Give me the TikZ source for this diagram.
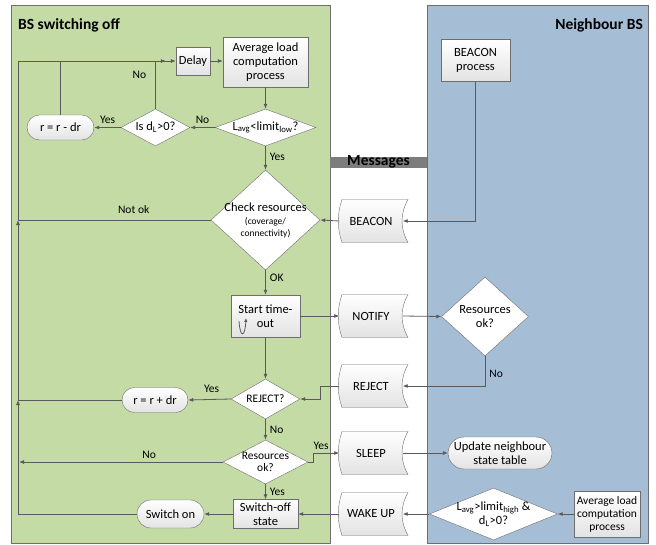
\documentclass[tikz,border=0pt]{standalone}
\usepackage{fontspec}
\setmainfont{Carlito}
\usetikzlibrary{shapes.geometric,shapes.misc,arrows.meta,calc}
\definecolor{panelgreen}{RGB}{196,219,166}
\definecolor{panelblue}{RGB}{166,189,214}
\definecolor{edgegray}{RGB}{90,90,90}
\definecolor{bordergray}{RGB}{110,110,110}
\definecolor{bargray}{RGB}{125,125,125}
\newcommand\msgnode[4]{%
  \begin{scope}[shift={(#2,#3)}]
    \path[msgfill] (-29,-21.5) -- (37,-21.5) .. controls (29,-7) and (29,7) .. (37,21.5) -- (-29,21.5) .. controls (-34,7) and (-34,-7) .. (-29,-21.5) -- cycle;
  \end{scope}
  \node[msgtxt] (#1) at (#2,#3) {#4};
}
\begin{document}
\begin{tikzpicture}[x=1pt,y=-1pt,
  every node/.style={font=\fontsize{12.5}{13.5}\selectfont},
  box/.style={draw=bordergray, top color=white, bottom color=gray!22, inner sep=1pt, align=center, font=\fontsize{12.5}{14}\selectfont},
  rbox/.style={box, rounded rectangle},
  dia/.style={diamond, draw=bordergray, fill=white, inner sep=0pt},
  dtext/.style={align=center, font=\fontsize{12.5}{14}\selectfont, inner sep=0pt},
  msgfill/.style={draw=bordergray, top color=white, bottom color=gray!22},
  msgtxt/.style={minimum width=63, minimum height=43, inner sep=0pt, font=\fontsize{12.5}{13.5}\selectfont},
  arr/.style={draw=edgegray, line width=0.8pt, -{Latex[length=5pt,width=4pt]}},
  ln/.style={draw=edgegray, line width=0.8pt},
  lab/.style={font=\fontsize{11.5}{12}\selectfont, inner sep=0pt},
  title/.style={font=\bfseries\fontsize{15.5}{17}\selectfont, inner sep=0pt}
]
\useasboundingbox (0,0) rectangle (656,544);
% panels
\path[draw=bordergray, fill=panelgreen] (11,5) rectangle (330,543);
\path[draw=bordergray, fill=panelblue] (427,5) rectangle (648,543);
\path[fill=bargray] (330,157) rectangle (427,168);
\node[title, anchor=center] (msgtitle) at (378.5,162) {Messages};
\node[title, anchor=west] (lefttitle) at (18,25) {BS switching off};
\node[title, anchor=east] (righttitle) at (643,25) {Neighbour BS};

% left panel nodes
\node[box, minimum width=34, minimum height=28] (delay) at (193,61) {Delay};
\node[box, minimum width=85, minimum height=50] (avg) at (265.5,62) {Average load\\computation\\process};
\node[rbox, minimum width=69, minimum height=25] (rminus) at (60.5,127.5) {r = r - dr};
\node[dia, minimum width=101, minimum height=37, label={[dtext]center:L\textsubscript{avg}<limit\textsubscript{low}?}] (lavg) at (265.5,127.5) {};
\node[dia, minimum width=69, minimum height=37, label={[dtext]center:Is d\textsubscript{L}>0?}] (isdl) at (155.5,127.5) {};
\node[dia, minimum width=109, minimum height=100, label={[dtext]center:Check resources\\[-1pt]{\fontsize{9.5}{11}\selectfont (coverage/}\\[-2pt]{\fontsize{9.5}{11}\selectfont connectivity)}}] (check) at (265.5,220) {};
\node[box, minimum width=69, minimum height=42] (start) at (265.5,316) {Start time-\\out};
\node[dia, minimum width=69, minimum height=40, label={[dtext, font=\fontsize{11.5}{12}\selectfont]center:REJECT?}] (rejq) at (265.5,399) {};
\node[rbox, minimum width=68, minimum height=25] (rplus) at (155,400) {r = r + dr};
\node[dia, minimum width=85, minimum height=44, label={[dtext, font=\fontsize{11.5}{12.5}\selectfont]center:Resources\\ok?}] (resok) at (265.5,462) {};
\node[box, minimum width=65, minimum height=29] (switchoff) at (265.5,514) {Switch-off\\state};
\node[rbox, minimum width=69, minimum height=28] (switchon) at (170.5,514) {Switch on};
\coordinate (L) at (18,0);

% timer symbol
\draw[draw=edgegray, line width=0.8pt, -{Latex[length=4pt,width=3.5pt]}] (239,321) .. controls (240,338) and (245,338) .. (246,318);

% right panel nodes
\node[box, minimum width=69, minimum height=42] (beaconp) at (475.5,60.5) {BEACON\\process};
\node[dia, minimum width=87, minimum height=79, label={[dtext]center:Resources\\ok?}] (resok2) at (485,316.5) {};
\node[rbox, minimum width=102, minimum height=32] (update) at (500,453) {Update neighbour\\state table};
\node[dia, minimum width=128, minimum height=52, label={[dtext, font=\fontsize{12.5}{14}\selectfont]center:L\textsubscript{avg}>limit\textsubscript{high} \&\\d\textsubscript{L}>0?}] (wakeq) at (493.5,514) {};
\node[box, minimum width=66, minimum height=46, font=\fontsize{11.5}{13}\selectfont] (avg2) at (607,514) {Average load\\computation\\process};

% messages
\msgnode{beacon}{371}{221}{BEACON}
\msgnode{notify}{371}{316}{NOTIFY}
\msgnode{reject}{371}{386}{REJECT}
\msgnode{sleep}{371}{453}{SLEEP}
\msgnode{wake}{371}{514}{WAKE UP}

% connectors, left panel
\draw[arr] (delay.east) -- (delay.east -| avg.west);
\draw[arr] (avg.south) -- (lavg.north);
\draw[arr] (lavg.west) -- (isdl.east) node[lab, pos=0.5, above=4pt] (nolavg) {No};
\draw[arr] (isdl.west) -- (rminus.east) node[lab, pos=0.5, above=4pt] (yesdl) {Yes};
\draw[arr] (isdl.north) |- (delay.west) node[lab, pos=0.35, left=9pt] (nodl) {No};
\draw[ln] (rminus.north) -- (rminus.north |- delay.west);
\draw[arr] (switchon.west) -| (L |- rplus.west);
\draw[arr] (L |- rplus.west) -- (L |- check.west);
\draw[arr, shorten >=10pt] (L |- check.west) |- (delay.west);
\draw[arr] (lavg.south) -- (check.north) node[lab, pos=0.45, right=4pt] (yeslavg) {Yes};
\draw[ln] (check.west) -- (L |- check.west) node[lab, pos=0.4, above=6pt] (notok) {Not ok};
\draw[arr] (check.south) -- (start.north) node[lab, pos=0.3, right=4pt] (okl) {OK};
\draw[arr] (start.south) -- (rejq.north);
\draw[arr] (start.east) -- (notify.west);
\draw[arr] (rejq.west) -- (rplus.east) node[lab, pos=0.45, above=6pt] (yesrej) {Yes};
\draw[ln] (rplus.west) -- (L |- rplus.west);
\draw[arr] (rejq.south) -- (resok.north) node[lab, pos=0.5, right=4pt] (norej) {No};
\draw[arr, shorten >=1pt] (resok.west) -- (L |- resok.west) node[lab, pos=0.36, above=3pt] (nores) {No};
\draw[arr] (resok.east) -- ++(5,0) |- (sleep.west);
\node[lab] (yesres) at (321,446) {Yes};
\draw[arr] (resok.south) -- (switchoff.north) node[lab, pos=0.5, right=4pt] (yesres2) {Yes};
\draw[arr] (switchoff.west) -- (switchon.east);

% connectors, messages and right panel
\draw[arr] (beaconp.south) |- (beacon.east);
\draw[arr] (beacon.west) -- (check.east);
\draw[arr] (notify.east) -- (resok2.west);
\draw[arr] (resok2.south) |- (reject.east) node[lab, pos=0.3, right=4pt] (nores2) {No};
\draw[arr] (reject.west) -- ++(-19,0) |- (rejq.east);
\draw[arr] (sleep.east) -- (update.west);
\draw[arr] (wake.west) -- (switchoff.east);
\draw[arr] (wakeq.west) -- (wake.east);
\draw[arr] (avg2.west) -- (wakeq.east);
\end{tikzpicture}
\end{document}
